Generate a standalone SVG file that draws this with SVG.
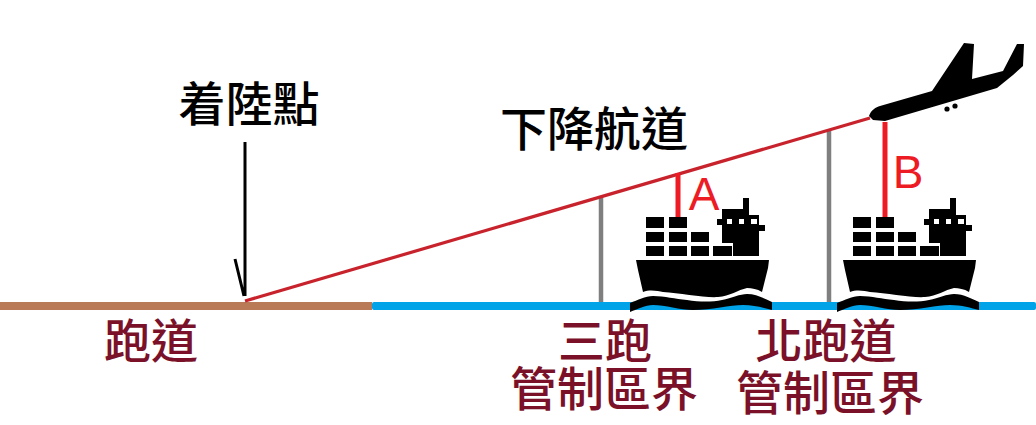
<svg xmlns="http://www.w3.org/2000/svg" xmlns:xlink="http://www.w3.org/1999/xlink" width="1036" height="425" viewBox="0 0 1036 425">
<style>
text{font-family:"Noto Sans CJK TC","Noto Sans",sans-serif;text-anchor:middle;font-weight:500}
.lb{font-size:47px;fill:#000}
.dr{font-size:47px;fill:#7a1128}
.ltr{font-family:"Liberation Sans",sans-serif;font-size:46px;font-weight:400;fill:#ed1c24}
.gray{stroke:#7f7f7f;stroke-width:4.5;fill:none}
.red{stroke:#ed1c24;stroke-width:5;fill:none}
</style>
<defs>
<g id="ship">
<path fill="#000" d="M646 217h18v11h-18zM669 217h18v11h-18zM646 232h18v10h-18zM669 232h18v10h-18zM691 232h18v10h-18zM646 246h18v10h-18zM669 246h18v10h-18zM691 246h18v10h-18zM713 246h19v10h-19z"/>
<path fill="#000" d="M743 198h6v17h10v10h6v6h-6v25h-26v-13h-11v-18h-5v-6h5v-10h21z"/>
<path fill="#fff" d="M727 219h5v5h-5zM739 219h5v5h-5zM751 219h6v5h-6z"/>
<path fill="#000" d="M636 260H769L768 268L762 292C757 289 752 288 747 288C738 290 730 296 718 297C705 298 680 293 663 292C658 291 650 289 643 292L638 270Z"/>
<path fill="#000" d="M630 303C638 300 645 296 653 296C665 296 675 299 687 300C700 302 712 302 722 300C732 298 740 294 747 294C757 294 765 299 772 302V310C764 308 755 305 743 305C730 305 712 310 693 310C680 310 665 305 653 305C645 305 638 309 630 312Z"/>
</g>
</defs>
<g id="ground">
<rect x="0" y="302" width="372" height="8" fill="#b97a57"/>
<rect x="372" y="302" width="664" height="8" rx="2" fill="#00a2e8"/>
</g>
<g id="connectors">
<path class="gray" d="M601 196V302M829 130V302"/>
<path d="M245 301L870 118" stroke="#c8232c" stroke-width="3.2" fill="none"/>
<path class="red" d="M678 173V217M885 122V217"/>
<path d="M245 142V296M235 259L244 296" stroke="#000" stroke-width="3" fill="none"/>
</g>
<g id="ship-a"><use href="#ship" xlink:href="#ship"/></g>
<g id="ship-b"><use href="#ship" xlink:href="#ship" x="207"/></g>
<g id="plane">
<path fill="#000" d="M869 116C871 110 876 107 880 106L932 91L964 43L974 44L972 79L1003 71L1017 44H1024L1023 66L1013 75L997 88L885 121L873 120Z"/>
<circle cx="947" cy="109" r="2.6"/><circle cx="955" cy="106" r="2.6"/>
</g>
<g id="labels">
<text class="lb" x="249" y="121">着陸點</text>
<text class="lb" x="594" y="146">下降航道</text>
<text class="dr" x="151" y="358">跑道</text>
<text class="dr" x="605" y="358">三跑</text>
<text class="dr" x="604" y="406">管制區界</text>
<text class="dr" x="826" y="358">北跑道</text>
<text class="dr" x="830" y="410">管制區界</text>
<text class="ltr" x="704" y="210">A</text>
<text class="ltr" x="908" y="188">B</text>
</g>
</svg>
